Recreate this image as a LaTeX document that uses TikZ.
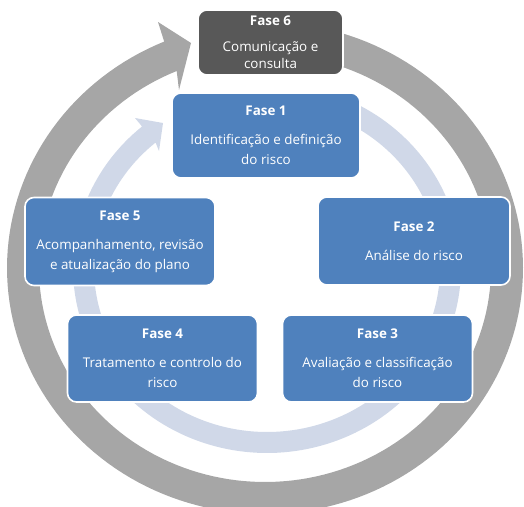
\documentclass[tikz,border=0pt]{standalone}
\usepackage{fontspec}
\setmainfont{Open Sans}
\definecolor{ringgray}{HTML}{A6A6A6}
\definecolor{ringlight}{HTML}{D0D8E8}
\definecolor{boxblue}{HTML}{4F81BD}
\definecolor{boxdark}{HTML}{585858}
\tikzset{
  phase/.style={rounded corners=9pt, fill=boxblue, draw=white, line width=1.6pt,
    text=white, align=center, inner sep=0pt, font=\fontsize{13.4}{20}\selectfont},
  phasedark/.style={phase, fill=boxdark},
}
\begin{document}
\begin{tikzpicture}[x=1pt,y=-1pt]
\useasboundingbox (0,0) rectangle (524,506);
\clip (0,0) rectangle (524,506);
% outer gray circular arrow
\fill[ringgray] plot[domain=75:-247,samples=160] ({265+258*cos(\x)},{268-246*sin(\x)})
  -- (158,22) -- (191,43) -- (179,90)
  -- plot[domain=-247:75,samples=160] ({265+226*cos(\x)},{268-214*sin(\x)}) -- cycle;
% inner light circular arrow
\fill[ringlight] plot[domain=65:-229.9,samples=160] ({267+194*cos(\x)},{268-185*sin(\x)})
  -- (135,118) -- (163,123) -- (159,151)
  -- plot[domain=-229.9:65,samples=160] ({267+173*cos(\x)},{268-164*sin(\x)}) -- cycle;
% boxes
\node[phasedark, minimum width=145pt, minimum height=65pt] (f6) at (270.5,42.5)
  {\textbf{Fase 6}\\[6pt]Comunicação e\\[-3pt]consulta};
\node[phase, minimum width=188pt, minimum height=85pt] (f1) at (266,135.5)
  {\textbf{Fase 1}\\[9pt]Identificação e definição\\do risco};
\node[phase, minimum width=190pt, minimum height=88pt] (f5) at (120,241.5)
  {\textbf{Fase 5}\\[9pt]Acompanhamento, revisão\\e atualização do plano};
\node[phase, minimum width=192pt, minimum height=88pt] (f2) at (414,241)
  {\textbf{Fase 2}\\[9pt]Análise do risco};
\node[phase, minimum width=190pt, minimum height=87pt] (f4) at (162.5,358.5)
  {\textbf{Fase 4}\\[9pt]Tratamento e controlo do\\risco};
\node[phase, minimum width=190pt, minimum height=87pt] (f3) at (377.5,358.5)
  {\textbf{Fase 3}\\[9pt]Avaliação e classificação\\do risco};
\end{tikzpicture}
\end{document}
